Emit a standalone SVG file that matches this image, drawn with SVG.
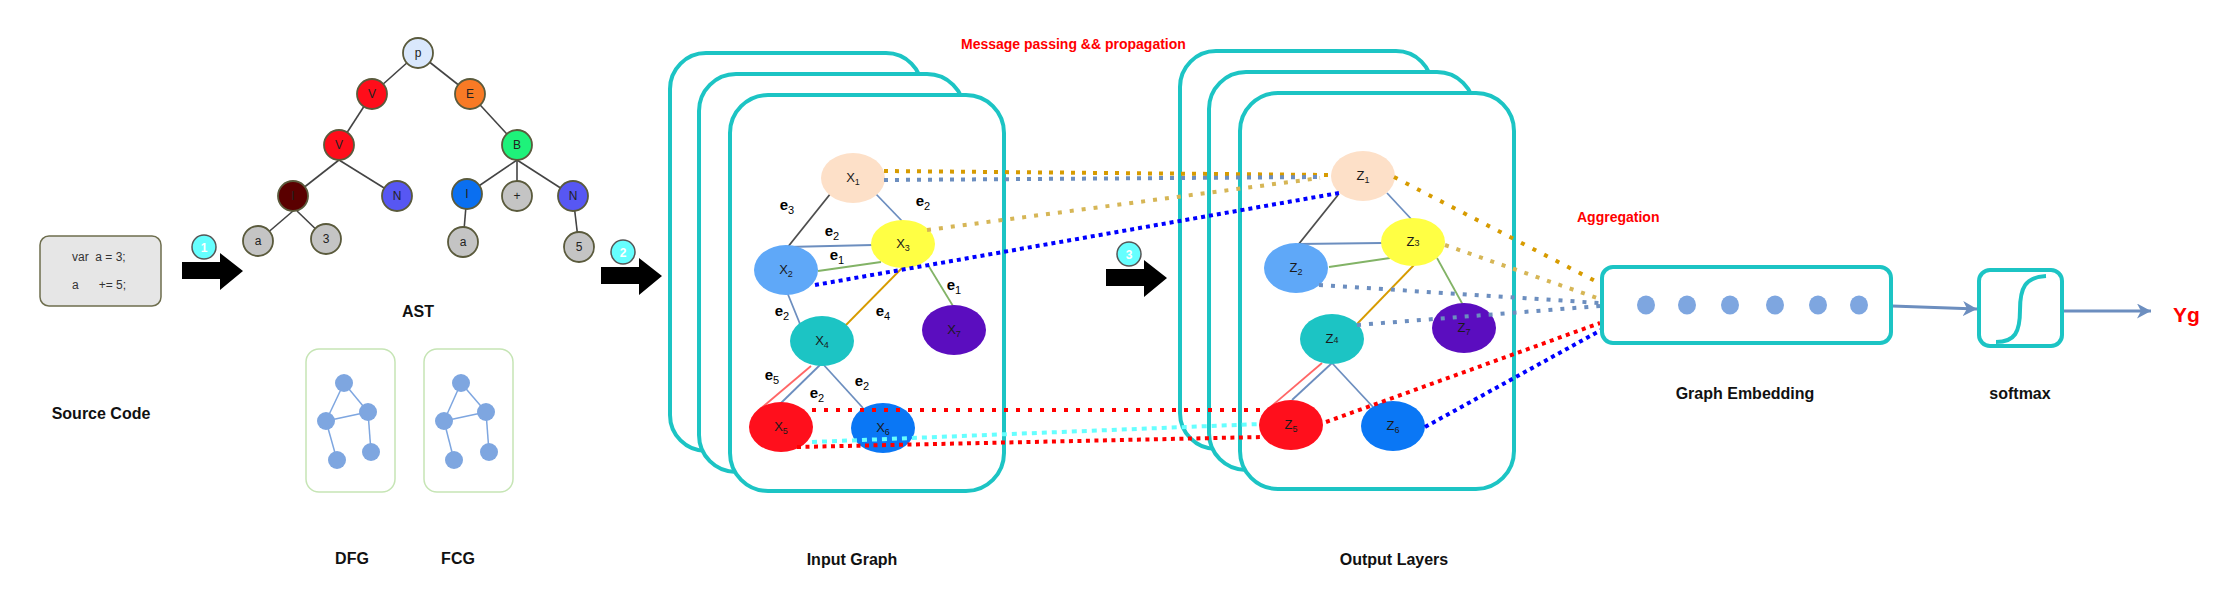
<svg xmlns="http://www.w3.org/2000/svg" width="2224" height="596" viewBox="0 0 2224 596">
<defs>
<style>
text{font-family:"Liberation Sans",Arial,sans-serif}
.lbl{font-size:16px;font-weight:bold;fill:#111;text-anchor:middle}
.red{font-size:14px;font-weight:bold;fill:#ff0000}
.ast{stroke:#5a5a3c;stroke-width:1.8}
.at{font-size:12px;fill:#222;text-anchor:middle}
.tree{stroke:#444;stroke-width:1.6;fill:none}
.frame{fill:#fff;stroke:#1cc4c4;stroke-width:4}
.nl{font-size:13px;fill:#1a1a1a;text-anchor:middle}
.el{font-size:15px;font-weight:bold;fill:#000;text-anchor:middle}
.sub{font-size:11px;font-weight:normal}
.nsub{font-size:9px}
.e{stroke-width:1.8;fill:none}
.dark{stroke:#4d4d4d}
.slate{stroke:#6c8ebf}
.green{stroke:#82b366}
.orange{stroke:#d79b00}
.lred{stroke:#ff6666}
.dot{fill:none;stroke-width:4}
.badge{fill:#66ffff;stroke:#555;stroke-width:1.5}
.bt{font-size:12px;font-weight:bold;fill:#fff;text-anchor:middle}
.mini{fill:#7ea6e0}
.mline{stroke:#7ea6e0;stroke-width:1.5}
.emb{fill:#7ea6e0}
</style>
<marker id="arr" markerUnits="userSpaceOnUse" markerWidth="16" markerHeight="16" refX="14" refY="7.5" orient="auto">
<path d="M0,0 L14,7.5 L0,15 L4,7.5 Z" fill="#6c8ebf"/>
</marker>
<path id="bigarrow" d="M182,262 L220,262 L220,253 L243,271 L220,290 L220,279 L182,279 Z" fill="#000"/>
</defs>
<rect width="2224" height="596" fill="#fff"/>

<!-- Source code -->
<g id="source">
<rect x="40" y="236" width="121" height="70" rx="9" fill="#e6e6e6" stroke="#6e6e4e" stroke-width="1.5"/>
<text x="72" y="261" font-size="12" fill="#333" xml:space="preserve" style="white-space:pre">var  a = 3;</text>
<text x="72" y="289" font-size="12" fill="#333" xml:space="preserve" style="white-space:pre">a      += 5;</text>
<text class="lbl" x="101" y="419">Source Code</text>
</g>

<!-- Big arrows with badges -->
<g id="step1">
<use href="#bigarrow"/>
<circle class="badge" cx="204" cy="247" r="12"/>
<text class="bt" x="204" y="251.5">1</text>
</g>
<g id="step2">
<use href="#bigarrow" transform="translate(419,5)"/>
<circle class="badge" cx="623" cy="252" r="12"/>
<text class="bt" x="623" y="256.5">2</text>
</g>
<g id="step3">
<use href="#bigarrow" transform="translate(924,7)"/>
<circle class="badge" cx="1129" cy="254" r="12"/>
<text class="bt" x="1129" y="258.5">3</text>
</g>

<!-- AST -->
<g id="ast-edges" class="tree">
<line x1="418" y1="53" x2="372" y2="94"/>
<line x1="418" y1="53" x2="470" y2="94"/>
<line x1="372" y1="94" x2="339" y2="145"/>
<line x1="470" y1="94" x2="517" y2="145"/>
<line x1="339" y1="160" x2="293" y2="196"/>
<line x1="339" y1="160" x2="397" y2="196"/>
<line x1="517" y1="160" x2="467" y2="194"/>
<line x1="517" y1="160" x2="517" y2="196"/>
<line x1="517" y1="160" x2="573" y2="196"/>
<line x1="293" y1="211" x2="258" y2="241"/>
<line x1="297" y1="211" x2="326" y2="239"/>
<line x1="467" y1="194" x2="463" y2="242"/>
<line x1="573" y1="196" x2="579" y2="247"/>
</g>
<g id="ast-p"><circle class="ast" cx="418" cy="53" r="15" fill="#dae8fc"/><text class="at" x="418" y="57">p</text></g>
<g id="ast-v1"><circle class="ast" cx="372" cy="94" r="15" fill="#ff0d1a"/><text class="at" x="372" y="98">V</text></g>
<g id="ast-e"><circle class="ast" cx="470" cy="94" r="15" fill="#f87a25"/><text class="at" x="470" y="98">E</text></g>
<g id="ast-v2"><circle class="ast" cx="339" cy="145" r="15" fill="#ff0d1a"/><text class="at" x="339" y="149">V</text></g>
<g id="ast-b"><circle class="ast" cx="517" cy="145" r="15" fill="#1ef27a"/><text class="at" x="517" y="149">B</text></g>
<g id="ast-i1"><circle class="ast" cx="293" cy="196" r="15" fill="#5a0000"/><text class="at" x="293" y="200">I</text></g>
<g id="ast-n1"><circle class="ast" cx="397" cy="196" r="15" fill="#5757f3"/><text class="at" x="397" y="200">N</text></g>
<g id="ast-i2"><circle class="ast" cx="467" cy="194" r="15" fill="#0a6ff0"/><text class="at" x="467" y="198">I</text></g>
<g id="ast-plus"><circle class="ast" cx="517" cy="196" r="15" fill="#c4c4c4"/><text class="at" x="517" y="200">+</text></g>
<g id="ast-n2"><circle class="ast" cx="573" cy="196" r="15" fill="#5757f3"/><text class="at" x="573" y="200">N</text></g>
<g id="ast-a1"><circle class="ast" cx="258" cy="241" r="15" fill="#c4c4c4"/><text class="at" x="258" y="245">a</text></g>
<g id="ast-3"><circle class="ast" cx="326" cy="239" r="15" fill="#c4c4c4"/><text class="at" x="326" y="243">3</text></g>
<g id="ast-a2"><circle class="ast" cx="463" cy="242" r="15" fill="#c4c4c4"/><text class="at" x="463" y="246">a</text></g>
<g id="ast-5"><circle class="ast" cx="579" cy="247" r="15" fill="#c4c4c4"/><text class="at" x="579" y="251">5</text></g>
<text class="lbl" x="418" y="317">AST</text>

<!-- DFG / FCG -->
<g id="dfg">
<rect x="306" y="349" width="89" height="143" rx="13" fill="#fff" stroke="#c6e5b5" stroke-width="1.5"/>
<g class="mline">
<line x1="344" y1="383" x2="368" y2="412"/><line x1="344" y1="383" x2="326" y2="421"/>
<line x1="326" y1="421" x2="368" y2="412"/><line x1="368" y1="412" x2="371" y2="452"/>
<line x1="326" y1="421" x2="337" y2="460"/>
</g>
<circle class="mini" cx="344" cy="383" r="9"/><circle class="mini" cx="368" cy="412" r="9"/>
<circle class="mini" cx="326" cy="421" r="9"/><circle class="mini" cx="371" cy="452" r="9"/>
<circle class="mini" cx="337" cy="460" r="9"/>
<text class="lbl" x="352" y="564">DFG</text>
</g>
<g id="fcg">
<rect x="424" y="349" width="89" height="143" rx="13" fill="#fff" stroke="#c6e5b5" stroke-width="1.5"/>
<g class="mline">
<line x1="461" y1="383" x2="486" y2="412"/><line x1="461" y1="383" x2="444" y2="421"/>
<line x1="444" y1="421" x2="486" y2="412"/><line x1="486" y1="412" x2="489" y2="452"/>
<line x1="444" y1="421" x2="454" y2="460"/>
</g>
<circle class="mini" cx="461" cy="383" r="9"/><circle class="mini" cx="486" cy="412" r="9"/>
<circle class="mini" cx="444" cy="421" r="9"/><circle class="mini" cx="489" cy="452" r="9"/>
<circle class="mini" cx="454" cy="460" r="9"/>
<text class="lbl" x="458" y="564">FCG</text>
</g>

<text class="red" x="961" y="49">Message passing &amp;&amp; propagation</text>

<!-- Input frames -->
<g id="input-frames">
<rect class="frame" x="670" y="53" width="252" height="398" rx="36"/>
<rect class="frame" x="699" y="74" width="265" height="398" rx="37"/>
<rect class="frame" x="730" y="95" width="274" height="396" rx="38"/>
</g>
<!-- Output frames -->
<g id="output-frames">
<rect class="frame" x="1180" y="51" width="252" height="398" rx="36"/>
<rect class="frame" x="1209" y="72" width="265" height="398" rx="37"/>
<rect class="frame" x="1240" y="93" width="274" height="396" rx="38"/>
</g>

<!-- Graph edges (solid) -->
<g id="edges">
<line class="e dark" x1="831" y1="193" x2="787" y2="248"/>
<line class="e slate" x1="875" y1="193" x2="902" y2="221"/>
<line class="e slate" x1="787" y1="247" x2="873" y2="245"/>
<line class="e green" x1="818" y1="271" x2="881" y2="262"/>
<line class="e green" x1="928" y1="265" x2="953" y2="306"/>
<line class="e orange" x1="903" y1="267" x2="845" y2="326"/>
<line class="e slate" x1="787" y1="292" x2="800" y2="324"/>
<line class="e lred" x1="811" y1="366" x2="759" y2="410"/>
<line class="e slate" x1="822" y1="363" x2="781" y2="403"/>
<line class="e slate" x1="822" y1="363" x2="863" y2="408"/>

<line class="e dark" x1="1338" y1="195" x2="1298" y2="245"/>
<line class="e slate" x1="1387" y1="193" x2="1413" y2="221"/>
<line class="e slate" x1="1298" y1="244" x2="1382" y2="243"/>
<line class="e green" x1="1329" y1="267" x2="1390" y2="258"/>
<line class="e orange" x1="1414" y1="265" x2="1357" y2="324"/>
<line class="e green" x1="1437" y1="258" x2="1463" y2="305"/>
<line class="e lred" x1="1322" y1="363" x2="1267" y2="410"/>
<line class="e slate" x1="1332" y1="363" x2="1292" y2="400"/>
<line class="e slate" x1="1332" y1="363" x2="1373" y2="407"/>
</g>

<!-- Input nodes -->
<g id="x1"><ellipse cx="853" cy="178" rx="32" ry="25" fill="#fde0c8"/><text class="nl" x="853" y="182">X<tspan class="nsub" dy="3">1</tspan></text></g>
<g id="x2"><ellipse cx="786" cy="270" rx="32" ry="25" fill="#5fa8f8"/><text class="nl" x="786" y="274">X<tspan class="nsub" dy="3">2</tspan></text></g>
<g id="x3"><ellipse cx="903" cy="244" rx="32" ry="24" fill="#ffff44"/><text class="nl" x="903" y="248">X<tspan class="nsub" dy="3">3</tspan></text></g>
<g id="x4"><ellipse cx="822" cy="341" rx="32" ry="25" fill="#1cc4c4"/><text class="nl" x="822" y="345">X<tspan class="nsub" dy="3">4</tspan></text></g>
<g id="x5"><ellipse cx="781" cy="427" rx="32" ry="25" fill="#ff0f1c"/><text class="nl" x="781" y="431">X<tspan class="nsub" dy="3">5</tspan></text></g>
<g id="x6"><ellipse cx="883" cy="428" rx="32" ry="25" fill="#0a77f5"/><text class="nl" x="883" y="432">X<tspan class="nsub" dy="3">6</tspan></text></g>
<g id="x7"><ellipse cx="954" cy="330" rx="32" ry="25" fill="#5b0dbf"/><text class="nl" x="954" y="334">X<tspan class="nsub" dy="3">7</tspan></text></g>

<!-- Edge labels -->
<g id="edge-labels">
<text class="el" x="787" y="210">e<tspan class="sub" dy="4">3</tspan></text>
<text class="el" x="923" y="206">e<tspan class="sub" dy="4">2</tspan></text>
<text class="el" x="832" y="236">e<tspan class="sub" dy="4">2</tspan></text>
<text class="el" x="837" y="260">e<tspan class="sub" dy="4">1</tspan></text>
<text class="el" x="954" y="290">e<tspan class="sub" dy="4">1</tspan></text>
<text class="el" x="782" y="316">e<tspan class="sub" dy="4">2</tspan></text>
<text class="el" x="883" y="316">e<tspan class="sub" dy="4">4</tspan></text>
<text class="el" x="772" y="380">e<tspan class="sub" dy="4">5</tspan></text>
<text class="el" x="817" y="398">e<tspan class="sub" dy="4">2</tspan></text>
<text class="el" x="862" y="386">e<tspan class="sub" dy="4">2</tspan></text>
</g>

<!-- Output nodes -->
<g id="z1"><ellipse cx="1363" cy="176" rx="32" ry="25" fill="#fde0c8"/><text class="nl" x="1363" y="180">Z<tspan class="nsub" dy="3">1</tspan></text></g>
<g id="z2"><ellipse cx="1296" cy="268" rx="32" ry="25" fill="#5fa8f8"/><text class="nl" x="1296" y="272">Z<tspan class="nsub" dy="3">2</tspan></text></g>
<g id="z3"><ellipse cx="1413" cy="242" rx="32" ry="24" fill="#ffff44"/><text class="nl" x="1413" y="246">Z<tspan class="nsub" dy="0">3</tspan></text></g>
<g id="z4"><ellipse cx="1332" cy="339" rx="32" ry="25" fill="#1cc4c4"/><text class="nl" x="1332" y="343">Z<tspan class="nsub" dy="0">4</tspan></text></g>
<g id="z5"><ellipse cx="1291" cy="425" rx="32" ry="25" fill="#ff0f1c"/><text class="nl" x="1291" y="429">Z<tspan class="nsub" dy="3">5</tspan></text></g>
<g id="z6"><ellipse cx="1393" cy="426" rx="32" ry="25" fill="#0a77f5"/><text class="nl" x="1393" y="430">Z<tspan class="nsub" dy="3">6</tspan></text></g>
<g id="z7"><ellipse cx="1464" cy="328" rx="32" ry="25" fill="#5b0dbf"/><text class="nl" x="1464" y="332">Z<tspan class="nsub" dy="3">7</tspan></text></g>

<!-- Dotted propagation / aggregation connectors -->
<g id="connectors">
<line class="dot" stroke="#d79b00" stroke-dasharray="4 7" x1="884" y1="171" x2="1328" y2="175"/>
<line class="dot" stroke="#6c8ebf" stroke-dasharray="4 7" x1="884" y1="180" x2="1323" y2="177"/>
<line class="dot" stroke="#d6b656" stroke-dasharray="4 8" x1="927" y1="230" x2="1320" y2="178"/>
<line class="dot" stroke="#0000ff" stroke-dasharray="4 4" x1="815" y1="285" x2="1339" y2="193"/>
<line class="dot" stroke="#ff0000" stroke-dasharray="4 8" x1="812" y1="410" x2="1264" y2="410"/>
<line class="dot" stroke="#66ffff" stroke-dasharray="5 5" x1="812" y1="442" x2="1260" y2="424"/>
<line class="dot" stroke="#ff0000" stroke-dasharray="4 4.5" x1="797" y1="447" x2="1262" y2="437"/>

<line class="dot" stroke="#d79b00" stroke-dasharray="4 9" x1="1394" y1="177" x2="1599" y2="283"/>
<line class="dot" stroke="#d6b656" stroke-dasharray="4 8" x1="1445" y1="245" x2="1600" y2="299"/>
<line class="dot" stroke="#6c8ebf" stroke-dasharray="4 8" x1="1319" y1="285" x2="1600" y2="303"/>
<line class="dot" stroke="#6c8ebf" stroke-dasharray="4 8" x1="1357" y1="325" x2="1600" y2="306"/>
<line class="dot" stroke="#ff0000" stroke-dasharray="4 4.5" x1="1326" y1="422" x2="1600" y2="323"/>
<line class="dot" stroke="#0000ff" stroke-dasharray="4 4" x1="1425" y1="427" x2="1603" y2="329"/>

<line stroke="#6c8ebf" stroke-width="3" x1="1892" y1="306" x2="1977" y2="309" marker-end="url(#arr)"/>
<line stroke="#6c8ebf" stroke-width="3" x1="2063" y1="311" x2="2151" y2="311" marker-end="url(#arr)"/>
</g>

<text class="red" x="1577" y="222">Aggregation</text>

<!-- Graph embedding -->
<g id="embedding">
<rect x="1602" y="267" width="289" height="76" rx="11" fill="#fff" stroke="#1cc4c4" stroke-width="4"/>
<ellipse class="emb" cx="1646" cy="305" rx="9" ry="9.5"/>
<ellipse class="emb" cx="1687" cy="305" rx="9" ry="9.5"/>
<ellipse class="emb" cx="1730" cy="305" rx="9" ry="9.5"/>
<ellipse class="emb" cx="1775" cy="305" rx="9" ry="9.5"/>
<ellipse class="emb" cx="1818" cy="305" rx="9" ry="9.5"/>
<ellipse class="emb" cx="1859" cy="305" rx="9" ry="9.5"/>
<text class="lbl" x="1745" y="399">Graph Embedding</text>
</g>

<!-- Softmax -->
<g id="softmax">
<rect x="1979" y="270" width="83" height="76" rx="11" fill="#fff" stroke="#1cc4c4" stroke-width="4"/>
<path d="M1996,342 C2015,342 2020,332 2020,310 C2020,288 2025,277 2046,276" fill="none" stroke="#1cc4c4" stroke-width="4"/>
<text class="lbl" x="2020" y="399">softmax</text>
</g>

<text x="2173" y="322" font-size="21" font-weight="bold" fill="#ff0000">Yg</text>

<text class="lbl" x="852" y="565">Input Graph</text>
<text class="lbl" x="1394" y="565">Output Layers</text>
</svg>
